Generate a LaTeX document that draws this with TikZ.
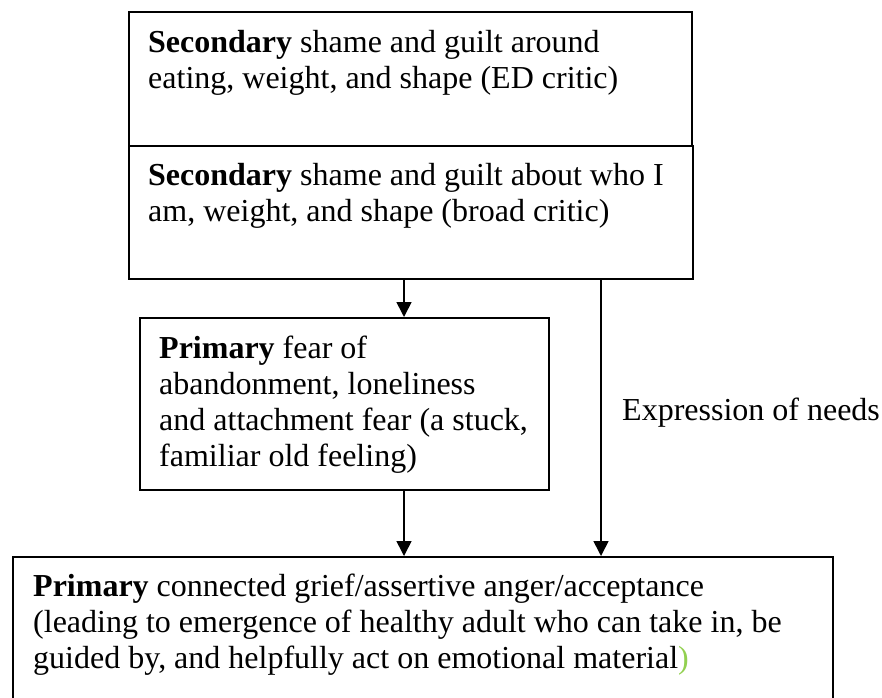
\documentclass[tikz,border=0pt]{standalone}
\usepackage{fontspec}
\setmainfont{Liberation Serif}
\usepackage{tikz}
\usetikzlibrary{arrows.meta,positioning}
\usepackage{xcolor}
\definecolor{leafgreen}{RGB}{146,208,80}
\tikzstyle{arrow} = [line width=1.6pt,-{Triangle[width=15pt,length=15pt]}]
\tikzstyle{box} = [draw, line width=1.6pt, anchor=north west, inner sep=0pt]
\tikzstyle{words} = [anchor=north west, inner sep=0pt, align=left, font=\fontsize{32}{36}\selectfont]

\begin{document}
\begin{tikzpicture}[x=1pt,y=-1pt]
\useasboundingbox (0,0) rectangle (882,697);

% Boxes
\node[box, minimum width=563pt, minimum height=134pt] (edcritic) at (128,11) {};
\node[box, minimum width=564pt, minimum height=133pt] (broadcritic) at (128,145) {};
\node[box, minimum width=409pt, minimum height=172pt] (fear) at (139,317) {};
\node[box, minimum width=820pt, minimum height=149pt] (grief) at (12,556) {};

% Box texts
\node[words] (edtext) at (148,26.8) {\strut\textbf{Secondary} shame and guilt around\\eating, weight, and shape (ED critic)};
\node[words] (broadtext) at (148,159.8) {\strut\textbf{Secondary} shame and guilt about who I\\am, weight, and shape (broad critic)};
\node[words] (feartext) at (159,332.8) {\strut\textbf{Primary} fear of\\abandonment, loneliness\\and attachment fear (a stuck,\\familiar old feeling)};
\node[words] (grieftext) at (33,570.8) {\strut\textbf{Primary} connected grief/assertive anger/acceptance\\(leading to emergence of healthy adult who can take in, be\\guided by, and helpfully act on emotional material\textcolor{leafgreen}{)}};

% Arrows
\coordinate (midcol) at (404,0);
\coordinate (rightcol) at (601,0);
\draw[arrow] (broadcritic.south -| midcol) -- (fear.north -| midcol);
\draw[arrow] (fear.south -| midcol) -- (grief.north -| midcol);
\draw[arrow] (broadcritic.south -| rightcol) -- (grief.north -| rightcol);
\node[anchor=base west, inner sep=0pt, font=\fontsize{32}{36}\selectfont] (needs) at (622,420) {Expression of needs};
\end{tikzpicture}
\end{document}
